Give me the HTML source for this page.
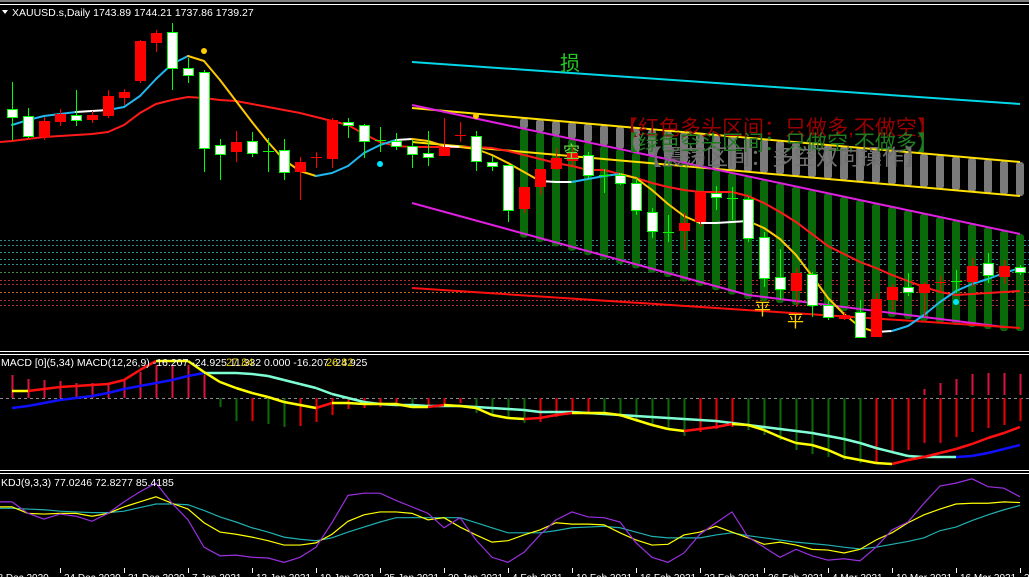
<!DOCTYPE html>
<html><head><meta charset="utf-8"><title>XAUUSD.s Daily</title>
<style>
html,body{margin:0;padding:0;background:#000;}
#wrap{position:relative;width:1029px;height:577px;overflow:hidden;background:#000;}
svg{display:block;font-family:"Liberation Sans","Noto Sans CJK SC",sans-serif;}
</style></head>
<body>
<div id="wrap">
<svg id="chart" width="1029" height="577" viewBox="0 0 1029 577">
  <rect x="0" y="0" width="1029" height="577" fill="#000"/>
  <rect x="0" y="0" width="1029" height="2" fill="#808080"/>
  <line x1="0" y1="4.5" x2="1029" y2="4.5" stroke="#fff" stroke-width="1"/>
  <g id="gDotted"></g>
  <g id="gZones"></g>
  <g id="gChannels"></g>
  <g id="gNotes">
    <text x="617" y="135" font-size="21" fill="#9a0000">【红色多头区间：只做多,不做空】</text>
    <text x="617" y="150" font-size="21" fill="#1f7d1f">【绿色空头区间：只做空,不做多】</text>
    <text x="640" y="165" font-size="22" fill="#707070">【震荡区间：多空双向操作】</text>
    <text x="560" y="70" font-size="20" fill="#22cc22">损</text>
  </g>
  <g id="gMA"></g>
  <g id="gCandles"></g>
  <g id="gMarks">
    <text x="563" y="158" font-size="17" fill="#66dd44">空</text>
    <text x="754" y="315" font-size="17" fill="#ffd000">平</text>
    <text x="787" y="327" font-size="17" fill="#ffd000">平</text>
  </g>
  <text x="12" y="16" font-size="10.5" fill="#fff">XAUUSD.s,Daily  1743.89 1744.21 1737.86 1739.27</text>
  <polygon points="2,10 8,10 5,14" fill="#fff"/>

  <line x1="0" y1="351.5" x2="1029" y2="351.5" stroke="#fff"/>
  <line x1="0" y1="354.5" x2="1029" y2="354.5" stroke="#fff"/>
  <line x1="0" y1="398.5" x2="1029" y2="398.5" stroke="#8a8a9a" stroke-dasharray="3,3"/>
  <g id="gMacd"></g>
  <text x="1" y="366" font-size="10.5" fill="#fff">MACD [0](5,34)  MACD(12,26,9) -16.207 -24.925 11.332 0.000 -16.207 -24.925</text>
  <text x="226" y="366" font-size="11" fill="#e8d000">27.84</text>
  <text x="326" y="366" font-size="11" fill="#e8d000">26.82</text>

  <line x1="0" y1="470.5" x2="1029" y2="470.5" stroke="#fff"/>
  <line x1="0" y1="473.5" x2="1029" y2="473.5" stroke="#fff"/>
  <g id="gKdj"></g>
  <text x="1" y="486" font-size="10.5" fill="#fff">KDJ(9,3,3) 77.0246 72.8277 85.4185</text>
  <g id="gAxis"></g>
</svg>
</div>
<script>
// ---------- data ----------
const candleOpen  = [1881,1874,1853,1868,1875,1870,1874,1892,1909,1947,1958,1922,1918,1845,1838,1849,1839,1840,1818,1832,1831,1868,1865,1850,1849,1844,1837,1834,1854,1854,1828,1825,1781,1803,1821,1829,1835,1815,1815,1807,1778,1758,1759,1768,1797,1792,1791,1753,1713,1699,1716,1685,1671,1678,1653,1690,1703,1697,1707,1709,1708,1727,1713,1723];
const candleClose = [1873,1854,1869,1876,1870,1875,1894,1898,1949,1957,1922,1915,1842,1836,1848,1837,1839,1818,1828,1833,1870,1865,1849,1850,1844,1836,1833,1843,1855,1829,1824,1780,1803,1821,1832,1837,1815,1815,1807,1780,1759,1758,1767,1798,1793,1792,1752,1712,1701,1717,1685,1673,1675,1653,1691,1703,1698,1706,1708,1709,1724,1715,1724,1718];
const candleHigh  = [1908,1882,1873,1881,1900,1879,1900,1901,1950,1960,1967,1932,1920,1851,1859,1858,1852,1851,1833,1838,1872,1872,1866,1863,1857,1850,1859,1872,1868,1859,1834,1825,1803,1821,1842,1845,1838,1821,1817,1812,1782,1775,1777,1798,1804,1803,1793,1758,1741,1722,1718,1690,1678,1690,1697,1706,1717,1708,1714,1720,1732,1737,1730,1725];
const candleLow   = [1850,1852,1850,1864,1864,1867,1872,1885,1907,1938,1900,1907,1818,1810,1828,1833,1818,1810,1790,1822,1822,1852,1832,1838,1840,1822,1824,1834,1848,1819,1819,1768,1777,1795,1820,1825,1812,1797,1805,1775,1752,1748,1740,1763,1780,1770,1748,1703,1690,1683,1673,1670,1670,1653,1653,1680,1694,1673,1697,1697,1703,1707,1706,1715];
const fastMA = [1865,1870,1874,1876,1878,1879,1880,1883,1894,1911,1926,1934,1929,1910,1889,1868,1848,1830,1819,1814,1817,1824,1837,1845,1850,1851,1849,1844,1843,1841,1835,1827,1818,1809,1808,1808,1811,1814,1816,1812,1800,1786,1774,1767,1767,1768,1769,1762,1751,1735,1714,1692,1676,1663,1658,1659,1664,1675,1688,1699,1706,1711,1717,1722];
const slowMA = [1849,1851,1853,1854,1855,1856,1858,1865,1877,1886,1890,1893,1892,1890,1889,1886,1883,1880,1877,1873,1869,1865,1856,1848,1844,1843,1843,1843,1843,1843,1842,1839,1835,1831,1827,1824,1820,1820,1816,1812,1807,1803,1800,1798,1798,1798,1794,1787,1778,1768,1756,1744,1736,1728,1722,1715,1709,1703,1698,1695,1696,1697,1698,1699];
// channel objects: bar indices and prices
const cyanChanIdx = [25,63];   const cyanChanPx = [1928,1886];
const yelUpIdx = [25,63];      const yelUpPx = [1882,1828];
const yelLoIdx = [25,63];      const yelLoPx = [1848,1794];
const magUpIdx = [25,63];      const magUpPx = [1885,1756];
const magLoIdx = [25,46,62];   const magLoPx = [1787,1695,1663];
const redLoIdx = [25,63];      const redLoPx = [1702,1662];
const zoneStart = 32;
const levelPrices = [1750,1745,1738,1731,1726,1718,1710,1706,1698,1690,1685];
const levelColors = ["#2a8c8c","#2a8c8c","#2a8c8c","#2a8c8c","#2a8c8c","#3a8c3a","#b03030","#b03030","#c06020","#b03030","#b03030"];
const dotIdx = [12,29,23,59]; const dotPx = [1939,1874,1826,1688];
const dotColors = ["#ffcc00","#ffcc00","#00e5ff","#00e5ff"];
// MACD
const macdHistB = [23,19,18,17,15,15,15,18,26,33,33,33,23,-9,-23,-23,-26,-29,-28,-24,-17,-11,-10,-9,-5,-7,-7,-7,-5,-15,-17,-19,-25,-24,-19,-15,-14,-15,-19,-24,-27,-32,-38,-34,-31,-29,-32,-37,-42,-52,-56,-59,-62,-65,-65,-55,-52,-45,-45,-39,-34,-30,-27,-23];
const macdHistA = [0,0,0,0,0,0,0,0,0,0,0,0,0,0,0,0,0,0,0,0,0,0,0,0,0,0,0,0,0,0,0,0,0,0,0,0,0,0,0,0,0,0,0,0,0,0,0,0,0,0,0,0,0,0,0,0,0,9,15,19,24,25,25,24];
const macdLine1 = [7,7,9,11,12,13,14,18,28,37,37,37,26,16,10,5,1,-4,-7,-10,-5,-5,-6,-6,-6,-9,-9,-7,-8,-10,-17,-20,-21,-20,-17,-15,-15,-15,-17,-22,-27,-31,-33,-31,-29,-26,-27,-32,-39,-45,-47,-52,-59,-62,-65,-66,-62,-59,-55,-51,-46,-40,-35,-29];
const macdLine2 = [-10,-8,-5,-2,0,2,5,9,12,15,18,22,25,25,25,24,22,18,14,10,4,0,-4,-6,-7,-7,-8,-8,-8,-9,-10,-11,-12,-14,-14,-14,-15,-16,-17,-18,-19,-20,-21,-22,-23,-25,-27,-29,-31,-33,-35,-38,-41,-45,-50,-54,-58,-59,-59,-59,-58,-55,-51,-47];
// KDJ
const kdjK = [71,62,61,62,62,58,62,71,78,85,76,68,49,36,33,29,24,18,18,21,33,51,60,64,64,62,53,56,43,32,22,24,32,39,49,47,47,46,35,25,18,19,32,36,44,36,28,19,22,18,12,11,7,12,25,35,49,60,68,75,76,76,78,77];
const kdjD = [69,68,67,65,64,63,63,65,70,75,75,74,66,57,50,42,36,29,26,24,28,36,43,50,56,56,56,56,56,49,42,35,35,35,38,42,43,44,42,36,30,28,28,28,32,35,31,28,25,22,20,18,15,12.5,15,19,23,28,38,43,52,60,67,73];
const kdjJ = [78,62,54,61,58,51,62,78,92,104,76,53,15,3,4,1,0,-6,1,15,49,87,90,90,80,71,62,42,56,25,1,-6,8,32,53,64,57,56,50,21,1,-6,7,33,49,64,29,15,1,12,3,-3,-1,-4,15,39,50,76,100,104,110,99,97,85];
// date axis
const dateTickIdx = [-1.5,3,7,11,15,19,23,27,31,35,39,43,47,51,55,59,63];
const dateLabels = ["18 Dec 2020","24 Dec 2020","31 Dec 2020","7 Jan 2021","13 Jan 2021","19 Jan 2021","25 Jan 2021","29 Jan 2021","4 Feb 2021","10 Feb 2021","16 Feb 2021","22 Feb 2021","26 Feb 2021","4 Mar 2021","10 Mar 2021","16 Mar 2021","22 Mar 2021"];

// ---------- scales ----------
const NS = "http://www.w3.org/2000/svg";
function bx(i){ return 12 + 16*i; }
function py(p){ return 1990 - p; }
function my(v){ return 398 - v; }
function ky(v){ return 558 - 0.72*v; }
function mk(tag, attrs, parent){
  const e = document.createElementNS(NS, tag);
  for (const k in attrs) e.setAttribute(k, attrs[k]);
  parent.appendChild(e);
  return e;
}
function interp(idxArr, pxArr, i){
  for (let k=0;k<idxArr.length-1;k++){
    const a=idxArr[k], b=idxArr[k+1];
    if (i<=b || k===idxArr.length-2){
      return pxArr[k] + (pxArr[k+1]-pxArr[k])*(i-a)/(b-a);
    }
  }
  return pxArr[pxArr.length-1];
}
const g = id => document.getElementById(id);

// ---------- dotted levels ----------
levelPrices.forEach((p,k)=>{
  const l = mk("line",{x1:0,y1:py(p)+0.5,x2:1029,y2:py(p)+0.5,stroke:levelColors[k],"stroke-width":1,"stroke-dasharray":"2,2"}, g("gDotted"));
  
  
});

// ---------- zone bars ----------
for (let i=zoneStart;i<candleOpen.length;i++){
  const x = bx(i);
  const yu = py(interp(yelUpIdx,yelUpPx,i));
  const yl = py(interp(yelLoIdx,yelLoPx,i));
  const mu = py(interp(magUpIdx,magUpPx,i));
  const ml = py(interp(magLoIdx,magLoPx,Math.min(i,62)));
  const grayBot = Math.min(yl, mu);
  const gr = mk("rect",{x:x-4,y:yu,width:8,height:Math.max(0,grayBot-yu),rx:3,fill:"#7a7a7a"}, g("gZones"));
  
  
  const gn = mk("rect",{x:x-4,y:mu,width:8,height:Math.max(0,ml+4-mu),rx:3,fill:"#0a6a0a"}, g("gZones"));
  
  
}

// ---------- channel lines ----------
function chan(idxArr, pxArr, color, name){
  const pts = idxArr.map((ix,k)=> bx(ix)+","+py(pxArr[k])).join(" ");
  const pl = mk("polyline",{points:pts,fill:"none",stroke:color,"stroke-width":2}, g("gChannels"));
  
  
}
chan(cyanChanIdx,cyanChanPx,"#00d8e8","stop-loss-line");
chan(yelUpIdx,yelUpPx,"#ffe000","upper-yellow-channel");
chan(yelLoIdx,yelLoPx,"#ffe000","lower-yellow-channel");
chan(magUpIdx,magUpPx,"#e020e0","upper-magenta-channel");
chan(magLoIdx,magLoPx,"#e020e0","lower-magenta-channel");
chan(redLoIdx,redLoPx,"#ff1010","lower-red-channel");

// ---------- moving averages ----------
{
  const pts = slowMA.map((v,i)=> bx(i)+","+py(v)).join(" ");
  const pl = mk("polyline",{points:"0,"+py(slowMA[0]-1)+" "+pts,fill:"none",stroke:"#ff1a1a","stroke-width":2}, g("gMA"));
  
  
}
for (let i=0;i<fastMA.length-1;i++){
  const d = fastMA[i+1]-fastMA[i];
  const col = d>1.5 ? "#20b8f0" : (d<-1.5 ? "#ffc800" : "#ffffff");
  const s = mk("line",{x1:bx(i),y1:py(fastMA[i]),x2:bx(i+1),y2:py(fastMA[i+1]),stroke:col,"stroke-width":2,"stroke-linecap":"round"}, g("gMA"));
  
  
}
dotIdx.forEach((ix,k)=>{
  const c = mk("circle",{cx:bx(ix),cy:py(dotPx[k]),r:3,fill:dotColors[k]}, g("gMA"));
  
  
});

// ---------- candles ----------
for (let i=0;i<candleOpen.length;i++){
  const o=candleOpen[i], c=candleClose[i], h=candleHigh[i], l=candleLow[i], x=bx(i);
  const grp = mk("g",{}, g("gCandles"));
  
  
  if (o===c){
    mk("line",{x1:x+0.5,y1:py(h),x2:x+0.5,y2:py(l),stroke:"#00ff00","stroke-width":1}, grp);
    mk("line",{x1:x-5,y1:py(o)+0.5,x2:x+6,y2:py(o)+0.5,stroke:"#00ff00","stroke-width":1}, grp);
  } else if (c>o){
    mk("line",{x1:x+0.5,y1:py(h),x2:x+0.5,y2:py(l),stroke:"#ff0000","stroke-width":1}, grp);
    mk("rect",{x:x-5,y:py(c),width:11,height:Math.max(1,c-o),fill:"#ff0000"}, grp);
  } else {
    mk("line",{x1:x+0.5,y1:py(h),x2:x+0.5,y2:py(l),stroke:"#00ff00","stroke-width":1}, grp);
    mk("rect",{x:x-4.5,y:py(o)+0.5,width:10,height:Math.max(1,o-c),fill:"#ffffff",stroke:"#00ff00","stroke-width":1}, grp);
  }
}

// ---------- MACD ----------
for (let i=0;i<macdHistB.length;i++){
  const v = macdHistB[i], prev = i>0?macdHistB[i-1]:v;
  let col;
  if (v>=0) col = "#dc143c";
  else col = (v<prev) ? "#0b6a0b" : "#ee0000";
  const b = mk("line",{x1:bx(i)+0.5,y1:my(0),x2:bx(i)+0.5,y2:my(v),stroke:col,"stroke-width":2}, g("gMacd"));
  
  
  if (macdHistA[i]>0){
    const a = mk("line",{x1:bx(i)+0.5,y1:my(0)-3,x2:bx(i)+0.5,y2:my(macdHistA[i]),stroke:"#dc143c","stroke-width":2}, g("gMacd"));
    
    
  }
}
for (let i=0;i<macdLine2.length-1;i++){
  const d = macdLine2[i+1]-macdLine2[i];
  const s = mk("line",{x1:bx(i),y1:my(macdLine2[i]),x2:bx(i+1),y2:my(macdLine2[i+1]),stroke:d>0?"#1010ff":"#7fffd4","stroke-width":2.5}, g("gMacd"));
  
  
}
for (let i=0;i<macdLine1.length-1;i++){
  const d = macdLine1[i+1]-macdLine1[i];
  const s = mk("line",{x1:bx(i),y1:my(macdLine1[i]),x2:bx(i+1),y2:my(macdLine1[i+1]),stroke:d>0?"#ff1010":"#ffff00","stroke-width":2.5}, g("gMacd"));
  
  
}

// ---------- KDJ ----------
function kline(arr,color,name){
  const pts = arr.map((v,i)=> bx(i)+","+ky(v)).join(" ");
  const pl = mk("polyline",{points:"0,"+ky(arr[0])+" "+pts,fill:"none",stroke:color,"stroke-width":1.2}, g("gKdj"));
  
  
}
kline(kdjD,"#20b0b0","kdj-d-line");
kline(kdjK,"#ffff00","kdj-k-line");
kline(kdjJ,"#9a30e0","kdj-j-line");

// ---------- date axis ----------
dateTickIdx.forEach((ix,k)=>{
  const x = bx(ix);
  const t = mk("line",{x1:x+0.5,y1:568,x2:x+0.5,y2:573,stroke:"#fff"}, g("gAxis"));
  
  
  const tx = mk("text",{x:x+4,y:581,"font-size":10,fill:"#fff"}, g("gAxis"));
  tx.textContent = dateLabels[k];
  
  
});
</script>
</body></html>
